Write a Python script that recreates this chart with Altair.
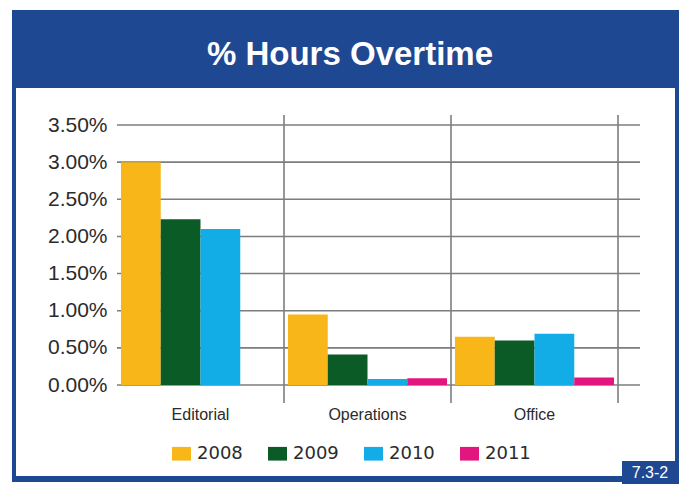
import altair as alt
import pandas as pd

title_text = "% Hours Overtime"
badge_text = "7.3-2"
categories = ["Editorial", "Operations", "Office"]
years = ["2008", "2009", "2010", "2011"]
v2008 = [3.00, 0.95, 0.65]
v2009 = [2.23, 0.41, 0.60]
v2010 = [2.10, 0.08, 0.69]
v2011 = [None, 0.09, 0.10]
y_ticks = [0.0, 0.5, 1.0, 1.5, 2.0, 2.5, 3.0, 3.5]
colors = ["#F8B618", "#0B5B27", "#12ACE7", "#E3157F"]

rows = []
for year, vals in zip(years, [v2008, v2009, v2010, v2011]):
    for cat, v in zip(categories, vals):
        if v is not None:
            rows.append({"category": cat, "year": year, "value": v})
df = pd.DataFrame(rows)

W, H = 523, 260
BLUE = "#1F4893"
FONT = "Liberation Sans, Arial, sans-serif"
TXT = "#2b2b2b"

one = pd.DataFrame({"t": [title_text]})
badge_df = pd.DataFrame({"t": [badge_text]})

x_scale = alt.Scale(range=[0, 501], paddingInner=0, paddingOuter=0)
y_scale = alt.Scale(domain=[0, 3.5], nice=False)
x_axis = alt.Axis(title=None, labelAngle=0, ticks=False, domain=False, grid=False,
                  labelFont=FONT, labelFontSize=16, labelColor=TXT,
                  labelPadding=21, zindex=1)
y_axis = alt.Axis(title=None, values=y_ticks, grid=False, ticks=False, domain=False,
                  labelExpr="format(datum.value, '.2f') + '%'",
                  labelFont=FONT, labelFontSize=21, labelColor=TXT,
                  labelPadding=10, zindex=1)

frame = alt.Chart(one).mark_rect(color=BLUE).encode(
    x=alt.value(-105), x2=alt.value(562), y=alt.value(-115), y2=alt.value(357))
panel = alt.Chart(one).mark_rect(color="white").encode(
    x=alt.value(-101), x2=alt.value(558), y=alt.value(-37), y2=alt.value(351))
title = alt.Chart(one).mark_text(
    font=FONT, fontSize=33, fontWeight="bold", color="white",
    align="center", baseline="alphabetic").encode(
    x=alt.value(233), y=alt.value(-60), text="t:N")
badge_box = alt.Chart(badge_df).mark_rect(color=BLUE).encode(
    x=alt.value(505), x2=alt.value(562), y=alt.value(336), y2=alt.value(359))
badge = alt.Chart(badge_df).mark_text(
    font=FONT, fontSize=16, color="white", align="center", baseline="middle").encode(
    x=alt.value(533), y=alt.value(348), text="t:N")

grid = alt.Chart(pd.DataFrame({"v": y_ticks})).mark_rule(
    color="#7d7d7d", strokeWidth=1.6).encode(
    y=alt.Y("v:Q", scale=y_scale, axis=y_axis),
    x=alt.value(0), x2=alt.value(W))

seps = alt.Chart(pd.DataFrame({"category": categories})).mark_rule(
    color="#7d7d7d", strokeWidth=1.6).encode(
    x=alt.X("category:N", sort=categories, bandPosition=1, scale=x_scale, axis=x_axis),
    y=alt.value(-10), y2=alt.value(278))

bars = alt.Chart(df).mark_bar().encode(
    x=alt.X("category:N", sort=categories, scale=x_scale, axis=x_axis),
    xOffset=alt.XOffset("year:N", sort=years,
                        scale=alt.Scale(paddingOuter=0.1, paddingInner=0)),
    y=alt.Y("value:Q", scale=y_scale, axis=y_axis),
    color=alt.Color("year:N", sort=years,
                    scale=alt.Scale(domain=years, range=colors),
                    legend=alt.Legend(title=None, orient="none", legendX=55, legendY=319,
                                      direction="horizontal",
                                      symbolType="M-1,-0.72H1V0.72H-1Z", symbolSize=361,
                                      symbolStrokeWidth=0, symbolOpacity=1,
                                      labelFont="DejaVu Sans", labelFontSize=18,
                                      labelColor=TXT, labelOffset=6, columnPadding=25,
                                      zindex=1)),
)

chart = alt.layer(frame, panel, badge_box, badge, title, grid, seps, bars).properties(
    width=W, height=H,
    padding={"left": 4, "top": 2, "right": 0, "bottom": 0},
    background="white",
).configure_view(stroke=None)

chart.save("out.html", embed_options={"renderer": "svg", "actions": False})
